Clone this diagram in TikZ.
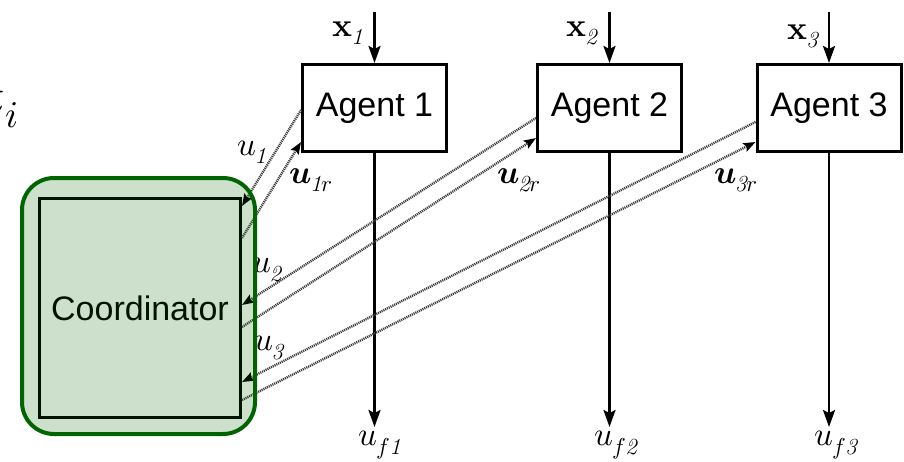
\documentclass[tikz,border=0pt]{standalone}
\usepackage{unicode-math}
\setmathfont{Latin Modern Math}
\newfontfamily\arialfont{Liberation Sans}
\usetikzlibrary{arrows.meta}
\definecolor{cgreen}{RGB}{0,100,0}
\definecolor{dotgray}{RGB}{60,60,60}
\newcommand\sbx[1]{_{\mbox{\kern-1.5pt\fontsize{23}{23}\selectfont$#1$}}}
\begin{document}
\begin{tikzpicture}[x=1pt,y=-1pt,
  agent/.style={draw, line width=3pt, minimum width=144pt, minimum height=87pt, inner sep=0pt,
    font=\arialfont\fontsize{34}{40}\selectfont},
  coordbox/.style={draw=black, line width=3pt, minimum width=201pt, minimum height=219pt, inner sep=0pt,
    font=\arialfont\fontsize{34}{40}\selectfont},
  greenbg/.style={draw=cgreen, line width=4pt, fill=cgreen, fill opacity=0.2, draw opacity=1,
    rounded corners=32pt, minimum width=233pt, minimum height=256pt, inner sep=0pt},
  lbl/.style={inner sep=0pt, font=\fontsize{33}{38}\selectfont},
  flow/.style={line width=2.5pt, -{Stealth[length=17pt,width=12pt,inset=3pt]}},
  sig/.style={line width=2.4pt, dotgray, dash pattern=on 1.1pt off 0.9pt,
    -{Stealth[length=12pt,width=9pt,inset=2pt,color=black]}}
]
\useasboundingbox (0,0) rectangle (904,461);

% fragment at top left
\node[anchor=base east, inner sep=0pt, font=\fontsize{54}{60}\selectfont] (frag) at (19,114) {$t_i$};

% agents
\node[agent] (a1) at (374.5,108) {Agent 1};
\node[agent] (a2) at (609.5,108) {Agent 2};
\node[agent] (a3) at (829,108) {Agent 3};

% coordinator
\node[coordbox] (coord) at (140,308) {Coordinator};

% inputs
\coordinate (in1) at (374.5,12);
\coordinate (in2) at (609.5,12);
\coordinate (in3) at (829,12);
\draw[flow] (in1) -- (a1.north);
\draw[flow] (in2) -- (a2.north);
\draw[flow] (in3) -- (a3.north);

% outputs
\coordinate (out1) at (374.5,427);
\coordinate (out2) at (609.5,427);
\coordinate (out3) at (829,427);
\draw[flow] (a1.south) -- (out1);
\draw[flow] (a2.south) -- (out2);
\draw[flow] (a3.south) -- (out3);

% signals
\draw[sig] ([yshift=-2pt]a1.west) -- ([yshift=102pt]coord.east);
\draw[sig] ([yshift=70pt]coord.east) -- ([yshift=-34pt]a1.west);
\draw[sig] ([yshift=-10pt]a2.west) -- ([yshift=3pt]coord.east);
\draw[sig] ([yshift=-19pt]coord.east) -- ([yshift=-30pt]a2.west);
\draw[sig] ([yshift=-14pt]a3.west) -- ([yshift=-74pt]coord.east);
\draw[sig] ([yshift=-92pt]coord.east) -- ([yshift=-34pt]a3.west);

% labels
\node[lbl] (lx1) at (348,33) {$\symbf{x}\sbx{\mathit{1}}$};
\node[lbl] (lx2) at (582,33) {$\symbf{x}\sbx{\mathit{2}}$};
\node[lbl] (lx3) at (803,36) {$\symbf{x}\sbx{\mathit{3}}$};
\node[lbl] (lu1) at (252,152) {$u\sbx{\mathit{1}}$};
\node[lbl] (lu2) at (267,270) {$u\sbx{\mathit{2}}$};
\node[lbl] (lu3) at (269,348) {$u\sbx{\mathit{3}}$};
\node[lbl] (lu1r) at (311,180) {$\symbfit{u}\sbx{\mathit{1}r}$};
\node[lbl] (lu2r) at (519,180) {$\symbfit{u}\sbx{\mathit{2}r}$};
\node[lbl] (lu3r) at (736,180) {$\symbfit{u}\sbx{\mathit{3}r}$};
\node[lbl] (lf1) at (380,445) {$u\sbx{f\mathit{1}}$};
\node[lbl] (lf2) at (616,445) {$u\sbx{f\mathit{2}}$};
\node[lbl] (lf3) at (836,445) {$u\sbx{f\mathit{3}}$};

% green background
\node[greenbg] (coordbg) at (138.5,306) {};
\end{tikzpicture}
\end{document}
